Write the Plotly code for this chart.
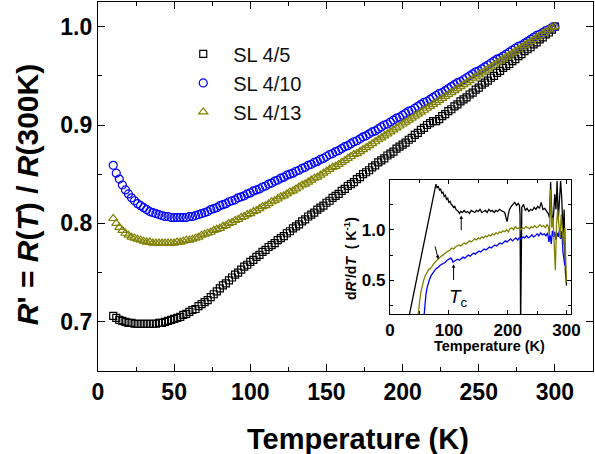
import plotly.graph_objects as go

# ---- main panel: normalised resistance R' = R(T)/R(300K) ----
temp = list(range(10, 301, 2))

r_sl4_5 = [
    0.706, 0.704, 0.702, 0.701, 0.700, 0.699, 0.699, 0.698, 0.698, 0.698,
    0.698, 0.698, 0.698, 0.698, 0.698, 0.699, 0.699, 0.700, 0.701, 0.702,
    0.703, 0.704, 0.705, 0.707, 0.708, 0.710, 0.712, 0.713, 0.716, 0.718,
    0.720, 0.722, 0.725, 0.728, 0.731, 0.734, 0.737, 0.739, 0.742, 0.745,
    0.748, 0.750, 0.753, 0.756, 0.758, 0.761, 0.763, 0.766, 0.768, 0.771,
    0.773, 0.776, 0.778, 0.780, 0.783, 0.785, 0.787, 0.790, 0.792, 0.795,
    0.797, 0.799, 0.802, 0.804, 0.807, 0.809, 0.811, 0.814, 0.816, 0.818,
    0.821, 0.823, 0.826, 0.828, 0.830, 0.833, 0.835, 0.838, 0.840, 0.842,
    0.845, 0.847, 0.850, 0.852, 0.854, 0.857, 0.859, 0.862, 0.864, 0.866,
    0.869, 0.871, 0.873, 0.876, 0.878, 0.880, 0.882, 0.885, 0.887, 0.890,
    0.892, 0.895, 0.897, 0.900, 0.902, 0.904, 0.904, 0.906, 0.909, 0.911,
    0.914, 0.916, 0.919, 0.921, 0.924, 0.926, 0.928, 0.931, 0.933, 0.936,
    0.938, 0.941, 0.943, 0.945, 0.948, 0.950, 0.953, 0.955, 0.958, 0.960,
    0.962, 0.965, 0.967, 0.970, 0.972, 0.975, 0.977, 0.979, 0.982, 0.984,
    0.987, 0.989, 0.992, 0.994, 0.997, 1.000,
]

r_sl4_10 = [
    0.859, 0.851, 0.845, 0.839, 0.834, 0.830, 0.826, 0.823, 0.820, 0.818,
    0.816, 0.814, 0.812, 0.811, 0.810, 0.809, 0.808, 0.807, 0.807, 0.806,
    0.806, 0.806, 0.806, 0.806, 0.806, 0.807, 0.807, 0.808, 0.809, 0.810,
    0.811, 0.812, 0.814, 0.815, 0.816, 0.818, 0.819, 0.820, 0.822, 0.823,
    0.824, 0.826, 0.827, 0.828, 0.830, 0.831, 0.833, 0.834, 0.835, 0.837,
    0.838, 0.840, 0.841, 0.843, 0.844, 0.846, 0.847, 0.849, 0.850, 0.851,
    0.853, 0.854, 0.856, 0.857, 0.859, 0.860, 0.862, 0.863, 0.865, 0.866,
    0.868, 0.870, 0.871, 0.873, 0.874, 0.876, 0.878, 0.879, 0.881, 0.883,
    0.884, 0.886, 0.888, 0.889, 0.891, 0.893, 0.894, 0.896, 0.898, 0.900,
    0.901, 0.903, 0.905, 0.907, 0.908, 0.910, 0.912, 0.914, 0.915, 0.917,
    0.919, 0.921, 0.923, 0.924, 0.926, 0.928, 0.930, 0.932, 0.933, 0.935,
    0.937, 0.939, 0.941, 0.943, 0.944, 0.946, 0.948, 0.950, 0.952, 0.954,
    0.955, 0.957, 0.959, 0.961, 0.963, 0.965, 0.967, 0.968, 0.970, 0.972,
    0.974, 0.976, 0.978, 0.980, 0.981, 0.983, 0.985, 0.987, 0.989, 0.991,
    0.992, 0.994, 0.996, 0.997, 0.999, 1.000,
]

r_sl4_13 = [
    0.805, 0.800, 0.796, 0.793, 0.790, 0.788, 0.786, 0.785, 0.784, 0.783,
    0.782, 0.781, 0.781, 0.780, 0.780, 0.780, 0.780, 0.780, 0.780, 0.780,
    0.780, 0.781, 0.781, 0.782, 0.783, 0.783, 0.784, 0.785, 0.786, 0.788,
    0.789, 0.790, 0.791, 0.793, 0.794, 0.795, 0.797, 0.798, 0.800, 0.801,
    0.803, 0.804, 0.806, 0.807, 0.809, 0.810, 0.812, 0.813, 0.815, 0.817,
    0.818, 0.820, 0.822, 0.823, 0.825, 0.827, 0.828, 0.830, 0.832, 0.833,
    0.835, 0.837, 0.839, 0.840, 0.842, 0.844, 0.846, 0.847, 0.849, 0.851,
    0.853, 0.855, 0.857, 0.858, 0.860, 0.862, 0.864, 0.866, 0.868, 0.870,
    0.871, 0.873, 0.875, 0.877, 0.879, 0.881, 0.883, 0.885, 0.887, 0.889,
    0.891, 0.893, 0.895, 0.897, 0.899, 0.901, 0.903, 0.905, 0.907, 0.909,
    0.911, 0.913, 0.915, 0.917, 0.919, 0.921, 0.923, 0.925, 0.927, 0.929,
    0.931, 0.933, 0.935, 0.937, 0.939, 0.941, 0.943, 0.945, 0.947, 0.949,
    0.951, 0.953, 0.955, 0.957, 0.959, 0.961, 0.963, 0.965, 0.967, 0.969,
    0.971, 0.973, 0.975, 0.977, 0.979, 0.981, 0.983, 0.985, 0.987, 0.989,
    0.991, 0.993, 0.995, 0.997, 0.999, 1.000,
]

# ---- inset: derivative dR'/dT ----
t_d45 = [30, 36, 42, 48, 54, 60, 66, 70, 74, 76, 78, 80, 82, 84, 86, 88, 90, 92,
         94, 96, 98, 100, 102, 104, 106, 108, 110, 112, 114, 116, 118, 120, 123,
         126, 129, 132, 135, 138, 141, 144, 147, 150, 153, 156, 159, 162, 165,
         168, 171, 174, 177, 180, 183, 186, 189, 192, 195, 197, 199, 201, 203,
         206, 209, 212, 215, 218, 220, 221, 222, 223, 224, 227, 230, 233, 236,
         239, 242, 245, 248, 251, 254, 257, 260, 263, 266, 269, 271, 273, 274,
         276, 278, 280, 282, 284, 286, 288, 290, 292, 294, 296, 298, 300]
d_sl4_5 = [0.08, 0.25, 0.42, 0.59, 0.76, 0.93, 1.10, 1.21, 1.33, 1.39, 1.45, 1.41,
           1.43, 1.39, 1.40, 1.36, 1.37, 1.33, 1.34, 1.30, 1.31, 1.27, 1.28, 1.25,
           1.24, 1.22, 1.23, 1.20, 1.19, 1.18, 1.16, 1.18, 1.17, 1.19, 1.17, 1.18,
           1.16, 1.19, 1.18, 1.17, 1.19, 1.18, 1.20, 1.17, 1.18, 1.19, 1.17, 1.20,
           1.18, 1.19, 1.17, 1.19, 1.18, 1.20, 1.19, 1.18, 1.17, 1.12, 1.08, 1.15,
           1.20, 1.23, 1.25, 1.27, 1.24, 1.26, 1.24, 1.15, 0.05, 0.70, 1.22, 1.25,
           1.19, 1.21, 1.18, 1.20, 1.19, 1.22, 1.20, 1.23, 1.21, 1.27, 1.20, 1.21,
           1.19, 1.16, 1.12, 1.47, 1.30, 1.05, 1.15, 1.35, 1.20, 1.48, 1.10, 1.25,
           1.48, 1.30, 0.95, 1.20, 0.60, 0.45]

t_d413 = [47, 49, 51, 53, 55, 57, 60, 63, 66, 69, 72, 75, 78, 81, 84, 87, 90, 93,
          96, 99, 102, 105, 108, 111, 114, 117, 120, 123, 126, 129, 132, 135, 138,
          141, 144, 147, 150, 153, 156, 159, 162, 165, 168, 171, 174, 177, 180,
          183, 186, 189, 192, 195, 198, 201, 204, 207, 210, 213, 216, 219, 222,
          225, 228, 231, 234, 237, 240, 243, 246, 249, 252, 255, 258, 261, 264,
          267, 269, 271, 273, 275, 277, 279, 281, 283, 285, 287, 289, 291, 293,
          295, 297, 299, 300]
d_sl4_13 = [0.12, 0.24, 0.33, 0.40, 0.46, 0.50, 0.55, 0.58, 0.61, 0.62, 0.65, 0.67,
            0.69, 0.71, 0.72, 0.74, 0.75, 0.77, 0.78, 0.79, 0.80, 0.82, 0.81, 0.83,
            0.84, 0.85, 0.84, 0.86, 0.87, 0.86, 0.88, 0.89, 0.88, 0.90, 0.91, 0.90,
            0.92, 0.91, 0.93, 0.92, 0.94, 0.93, 0.95, 0.94, 0.96, 0.95, 0.97, 0.96,
            0.98, 0.97, 0.99, 0.98, 1.00, 0.98, 1.01, 1.02, 1.00, 1.03, 1.01, 1.02,
            1.00, 1.02, 1.01, 1.03, 1.02, 1.01, 1.03, 1.02, 1.04, 1.02, 1.03, 1.05,
            1.03, 1.04, 1.02, 1.05, 1.03, 0.95, 1.40, 1.02, 1.12, 0.90, 0.60, 1.05,
            1.20, 1.05, 0.92, 1.15, 1.00, 0.85, 1.02, 0.70, 0.48]

t_d410 = [57, 59, 61, 63, 65, 67, 70, 73, 76, 79, 82, 85, 88, 91, 94, 97, 100, 103,
          105, 107, 109, 112, 115, 118, 121, 124, 127, 130, 133, 136, 139, 142,
          145, 148, 151, 154, 157, 160, 163, 166, 169, 172, 175, 178, 181, 184,
          187, 190, 193, 196, 199, 202, 205, 208, 211, 214, 217, 220, 223, 226,
          229, 232, 235, 238, 241, 244, 247, 250, 253, 256, 259, 262, 265, 268,
          270, 272, 274, 276, 278, 280, 282, 284, 286, 288, 290, 292, 294, 296, 297]
d_sl4_10 = [0.10, 0.25, 0.36, 0.43, 0.48, 0.51, 0.55, 0.58, 0.60, 0.62, 0.63, 0.65,
            0.66, 0.67, 0.68, 0.70, 0.71, 0.72, 0.71, 0.68, 0.69, 0.70, 0.71, 0.70,
            0.72, 0.73, 0.72, 0.74, 0.75, 0.74, 0.76, 0.77, 0.76, 0.78, 0.79, 0.78,
            0.80, 0.81, 0.80, 0.82, 0.83, 0.82, 0.84, 0.85, 0.84, 0.86, 0.87, 0.86,
            0.88, 0.89, 0.88, 0.90, 0.91, 0.89, 0.91, 0.92, 0.90, 0.92, 0.91, 0.93,
            0.92, 0.94, 0.92, 0.93, 0.95, 0.93, 0.94, 0.96, 0.94, 0.97, 0.95, 0.96,
            0.94, 0.97, 0.88, 0.95, 0.86, 0.99, 0.93, 0.98, 0.90, 0.97, 0.93, 1.00,
            0.91, 0.99, 0.78, 0.68, 0.65]

series_names = ["SL 4/5", "SL 4/10", "SL 4/13"]
colors = ["#000000", "#0000FF", "#808000"]
symbols = ["square-open", "circle-open", "triangle-up-open"]

FONT = "Arial, 'Liberation Sans', sans-serif"

fig = go.Figure()

for name, vals, col, sym, size in zip(series_names, [r_sl4_5, r_sl4_10, r_sl4_13],
                                      colors, symbols, [7, 8, 8]):
    fig.add_trace(go.Scatter(
        x=temp, y=vals, mode="markers", name=name,
        marker=dict(symbol=sym, size=size, color=col, line=dict(width=1.2, color=col)),
        xaxis="x", yaxis="y",
    ))

for tt, dd, col in zip([t_d45, t_d410, t_d413], [d_sl4_5, d_sl4_10, d_sl4_13], colors):
    fig.add_trace(go.Scatter(
        x=tt, y=dd, mode="lines", showlegend=False,
        line=dict(color=col, width=1.3),
        xaxis="x2", yaxis="y2",
    ))

axis_common = dict(
    showline=True, linecolor="black", linewidth=1.3, mirror="allticks",
    ticks="inside", tickcolor="black", showgrid=False, zeroline=False,
    automargin=False,
)

fig.update_layout(
    width=595, height=454,
    margin=dict(l=98, r=2, t=2, b=83, autoexpand=False),
    paper_bgcolor="white", plot_bgcolor="white",
    font=dict(family=FONT, color="black"),
    xaxis=dict(
        **axis_common, range=[0, 325], dtick=50, tick0=0, ticklen=7, tickwidth=1.2,
        minor=dict(dtick=25, ticklen=4, ticks="inside", tickcolor="black"),
        tickfont=dict(size=23, family=FONT, weight="bold"),
        domain=[0, 1],
    ),
    yaxis=dict(
        **axis_common, range=[0.65, 1.025], dtick=0.1, tick0=0.7, ticklen=7, tickwidth=1.2,
        tickformat=".1f",
        minor=dict(dtick=0.05, ticklen=4, ticks="inside", tickcolor="black"),
        tickfont=dict(size=23, family=FONT, weight="bold"),
        domain=[0, 1],
    ),
    xaxis2=dict(
        **axis_common, range=[0, 308], dtick=100, tick0=0, ticklen=4, tickwidth=1,
        minor=dict(dtick=50, ticklen=3, ticks="inside", tickcolor="black"),
        tickfont=dict(size=17, family=FONT, weight="bold"),
        domain=[0.590, 0.956], anchor="y2",
    ),
    yaxis2=dict(
        **axis_common, range=[0.17, 1.49], dtick=0.5, tick0=0, ticklen=4, tickwidth=1,
        tickformat=".1f",
        minor=dict(dtick=0.25, ticklen=3, ticks="inside", tickcolor="black"),
        tickfont=dict(size=17, family=FONT, weight="bold"),
        domain=[0.1545, 0.5176], anchor="x2",
    ),
    legend=dict(
        x=0.152, y=0.912, xanchor="left", yanchor="top",
        bgcolor="rgba(0,0,0,0)", borderwidth=0,
        font=dict(size=20, family=FONT, color="#111111"),
        itemwidth=50, tracegroupgap=0,
    ),
    showlegend=True,
)

annotations = [
    # main axis titles
    dict(text="<b>Temperature (K)</b>", x=0.525, y=-0.185, xref="paper", yref="paper",
         showarrow=False, font=dict(size=29, family=FONT), xanchor="center", yanchor="middle"),
    dict(text="<b><i>R</i>' = <i>R</i>(<i>T</i>) / <i>R</i>(300K)</b>", x=-0.141, y=0.477,
         xref="paper", yref="paper", showarrow=False, textangle=-90,
         font=dict(size=30, family=FONT), xanchor="center", yanchor="middle"),
    # inset axis titles
    dict(text="<b>Temperature (K)</b>", x=0.79, y=0.068, xref="paper", yref="paper",
         showarrow=False, font=dict(size=14.5, family=FONT), xanchor="center", yanchor="middle"),
    dict(text="<b>d<i>R</i>'/d<i>T</i>  ( K<sup>-1</sup>)</b>", x=0.509, y=0.306,
         xref="paper", yref="paper", showarrow=False, textangle=-90,
         font=dict(size=14, family=FONT), xanchor="center", yanchor="middle"),
    # T_c label
    dict(text="<i>T</i><sub>c</sub>", x=116, y=0.33, xref="x2", yref="y2",
         showarrow=False, font=dict(size=19, family=FONT), xanchor="center", yanchor="middle"),
    # arrows marking the transition on each curve
    dict(x=121, y=1.14, ax=121, ay=0.98, xref="x2", yref="y2", axref="x2", ayref="y2",
         text="", showarrow=True, arrowhead=2, arrowsize=0.7, arrowwidth=1, arrowcolor="black"),
    dict(x=108, y=0.66, ax=108, ay=0.49, xref="x2", yref="y2", axref="x2", ayref="y2",
         text="", showarrow=True, arrowhead=2, arrowsize=0.7, arrowwidth=1, arrowcolor="black"),
    dict(x=82, y=0.71, ax=76, ay=0.85, xref="x2", yref="y2", axref="x2", ayref="y2",
         text="", showarrow=True, arrowhead=2, arrowsize=0.7, arrowwidth=1, arrowcolor="black"),
]
fig.update_layout(annotations=annotations)

fig.write_html("out.html")
